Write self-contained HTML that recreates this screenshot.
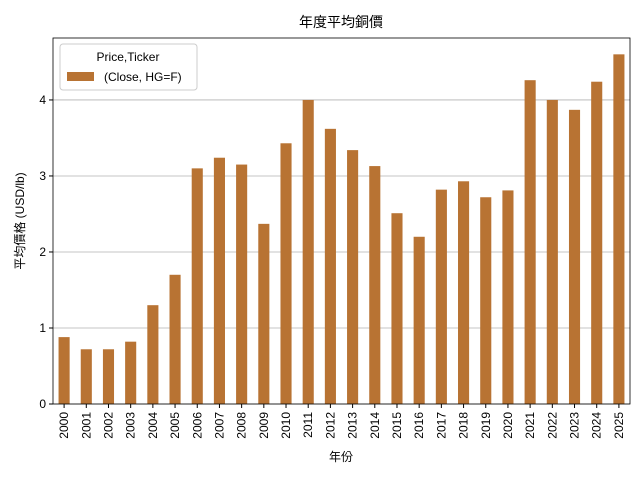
<!DOCTYPE html>
<html><head><meta charset="utf-8"><style>
body{margin:0;background:#fff;font-family:"Liberation Sans","Noto Sans CJK JP",sans-serif}
svg text{font-family:"Liberation Sans","Noto Sans CJK JP",sans-serif;fill:#000}
</style></head><body>
<svg id="chart" width="640" height="480">
<text x="341" y="27" font-size="14" text-anchor="middle">年度平均銅價</text>
<g id="grid"></g><g id="bars"></g><g id="axes"></g>
<text x="341" y="461" font-size="12" text-anchor="middle">年份</text>
<text transform="translate(24,221) rotate(-90)" font-size="12" text-anchor="middle">平均價格 (USD/lb)</text>
<g>
<rect x="60" y="44" width="137" height="46" rx="3" fill="#fff" stroke="#ccc"/>
<text x="128" y="61" font-size="12" text-anchor="middle">Price,Ticker</text>
<rect x="67" y="72" width="27" height="9" fill="#b87333"/>
<text x="104" y="81" font-size="12">(Close, HG=F)</text>
</g>
</svg>
<script>
const years=["2000","2001","2002","2003","2004","2005","2006","2007","2008","2009","2010","2011","2012","2013","2014","2015","2016","2017","2018","2019","2020","2021","2022","2023","2024","2025"];
const prices=[0.88,0.72,0.72,0.82,1.30,1.70,3.10,3.24,3.15,2.37,3.43,4.00,3.62,3.34,3.13,2.51,2.20,2.82,2.93,2.72,2.81,4.26,4.00,3.87,4.24,4.60];
const yTicks=[0,1,2,3,4];
const L=53,R=630,T=38,B=404,ymax=4.815;
const ns="http://www.w3.org/2000/svg";
const step=(R-L)/years.length;
const xs=i=>L+step*(i+0.5);
const ys=v=>B-(B-T)*v/ymax;
function mk(tag,attrs,parent){const e=document.createElementNS(ns,tag);for(const k in attrs)e.setAttribute(k,attrs[k]);document.getElementById(parent).appendChild(e);return e;}
yTicks.forEach(t=>{
 const g=mk("line",{x1:L,x2:R,y1:ys(t),y2:ys(t),stroke:"#b0b0b0","stroke-width":0.8},"grid");
 
 
 mk("line",{x1:L-4,x2:L,y1:ys(t),y2:ys(t),stroke:"#000"},"axes");
 const tx=mk("text",{x:L-7,y:ys(t)+4,"font-size":12,"text-anchor":"end"},"axes");tx.textContent=t;
 
 
});
years.forEach((y,i)=>{
 const w=step*0.5;
 const b=mk("rect",{x:xs(i)-w/2,y:ys(prices[i]),width:w,height:B-ys(prices[i]),fill:"#b87333"},"bars");
 
 
 mk("line",{x1:xs(i),x2:xs(i),y1:B,y2:B+4,stroke:"#000"},"axes");
 const tx=mk("text",{"font-size":12,"text-anchor":"end",transform:`translate(${xs(i)+4},${B+8}) rotate(-90)`},"axes");tx.textContent=y;
 
 
});
const f=mk("rect",{x:L,y:T,width:R-L,height:B-T,fill:"none",stroke:"#000","stroke-width":0.8},"axes");


</script>
</body></html>
